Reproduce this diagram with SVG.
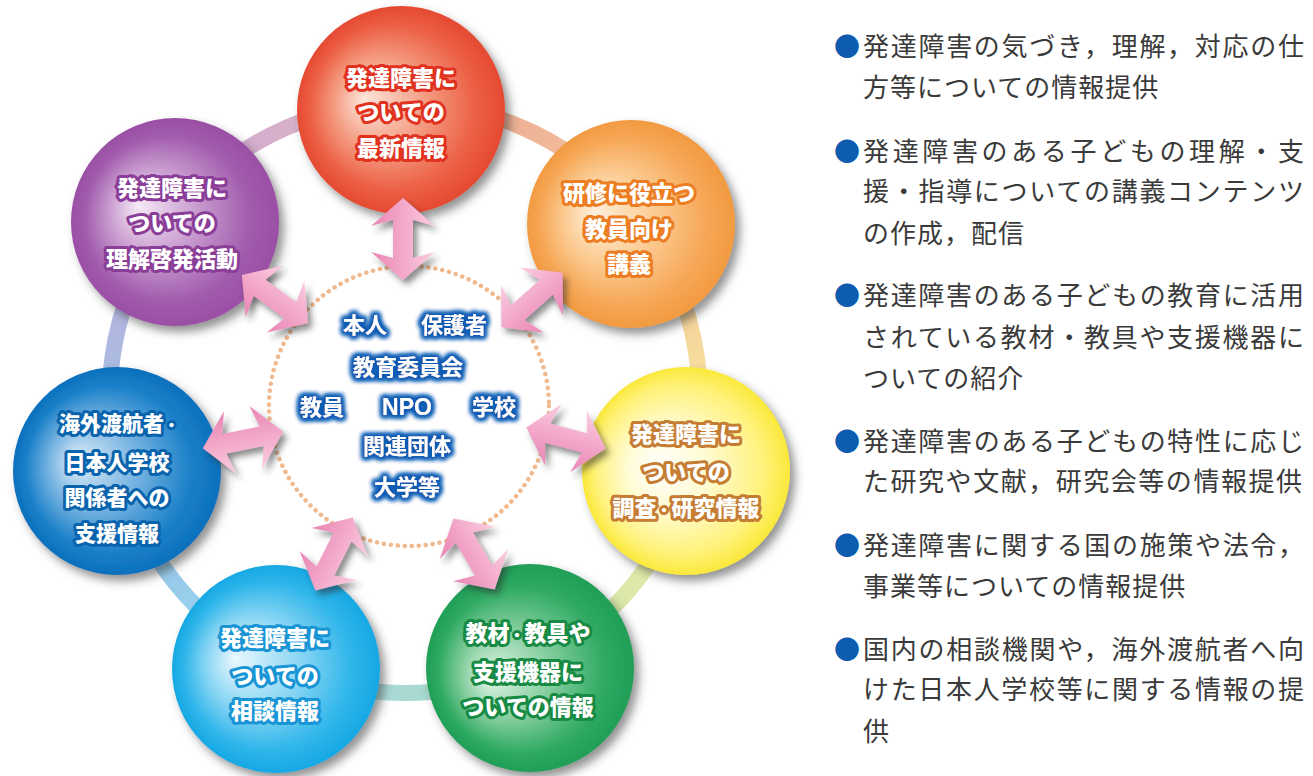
<svg xmlns="http://www.w3.org/2000/svg" xmlns:xlink="http://www.w3.org/1999/xlink" width="1313" height="776" viewBox="0 0 1313 776">
<defs>
<style>
.ct{font-family:"Noto Sans CJK JP","Noto Sans CJK SC",sans-serif;font-weight:900;font-size:22px;fill:#fff;text-anchor:middle;paint-order:stroke fill;stroke-width:6;stroke-linejoin:round}
.dot{font-size:15px}
.mid{font-family:"Noto Sans CJK JP",sans-serif;font-weight:700;font-size:22px;fill:#fff;text-anchor:middle}
.mid2{font-family:"Liberation Sans",Arial,sans-serif;font-weight:700;font-size:23px;fill:#fff;text-anchor:middle}
.rt{font-family:"Noto Sans CJK JP",sans-serif;font-size:26px;fill:#3a3a3a;letter-spacing:1px}
.bl{font-family:"Noto Sans CJK JP",sans-serif;font-size:26px;fill:#0d5cb0}
.ring{fill:none;stroke-width:16;opacity:0.85}
</style>
<filter id="csh" x="-20%" y="-20%" width="145%" height="145%">
<feDropShadow dx="5" dy="6" stdDeviation="5" flood-color="#3a3a3a" flood-opacity="0.55"/>
</filter>
<filter id="ash" x="-30%" y="-30%" width="170%" height="170%">
<feDropShadow dx="4" dy="5" stdDeviation="3" flood-color="#333" flood-opacity="0.55"/>
</filter>
<filter id="glow" x="-20%" y="-40%" width="140%" height="180%">
<feMorphology in="SourceAlpha" operator="dilate" radius="1.5" result="d"/>
<feGaussianBlur in="d" stdDeviation="2.4" result="b"/>
<feFlood flood-color="#0f5cb4"/>
<feComposite in2="b" operator="in" result="g"/>
<feMerge><feMergeNode in="g"/><feMergeNode in="g"/><feMergeNode in="g"/><feMergeNode in="SourceGraphic"/></feMerge>
</filter>
<radialGradient id="gRed" cx="0.5" cy="0.5" r="0.5" fx="0.32" fy="0.45">
<stop offset="0" stop-color="#fde6dc"/><stop offset="0.45" stop-color="#f49a80"/><stop offset="0.8" stop-color="#ec5f44"/><stop offset="1" stop-color="#e54a32"/>
</radialGradient>
<radialGradient id="gOrange" cx="0.5" cy="0.5" r="0.5" fx="0.32" fy="0.45">
<stop offset="0" stop-color="#fff0dc"/><stop offset="0.45" stop-color="#fbca90"/><stop offset="0.8" stop-color="#f6a756"/><stop offset="1" stop-color="#f29a40"/>
</radialGradient>
<radialGradient id="gYellow" cx="0.5" cy="0.5" r="0.5" fx="0.35" fy="0.48">
<stop offset="0" stop-color="#ffffff"/><stop offset="0.4" stop-color="#fffbd2"/><stop offset="0.8" stop-color="#fff27c"/><stop offset="1" stop-color="#fbe83a"/>
</radialGradient>
<radialGradient id="gGreen" cx="0.5" cy="0.5" r="0.5" fx="0.3" fy="0.55">
<stop offset="0" stop-color="#e2f5e8"/><stop offset="0.45" stop-color="#80cc9b"/><stop offset="0.8" stop-color="#2faa63"/><stop offset="1" stop-color="#1f9e57"/>
</radialGradient>
<radialGradient id="gCyan" cx="0.5" cy="0.5" r="0.5" fx="0.3" fy="0.45">
<stop offset="0" stop-color="#eaf8fe"/><stop offset="0.45" stop-color="#8ad6f4"/><stop offset="0.8" stop-color="#30b6ea"/><stop offset="1" stop-color="#16a8e4"/>
</radialGradient>
<radialGradient id="gBlue" cx="0.5" cy="0.5" r="0.5" fx="0.3" fy="0.45">
<stop offset="0" stop-color="#e0eef9"/><stop offset="0.45" stop-color="#70b0e0"/><stop offset="0.8" stop-color="#1a80c8"/><stop offset="1" stop-color="#0b70bd"/>
</radialGradient>
<radialGradient id="gPurple" cx="0.5" cy="0.5" r="0.5" fx="0.32" fy="0.42">
<stop offset="0" stop-color="#f5eaf6"/><stop offset="0.45" stop-color="#c697cd"/><stop offset="0.8" stop-color="#a15cac"/><stop offset="1" stop-color="#9a4fa5"/>
</radialGradient>
<linearGradient id="gArr" x1="0" y1="0" x2="0" y2="1">
<stop offset="0" stop-color="#f9cde0"/><stop offset="0.5" stop-color="#f3a8ca"/><stop offset="1" stop-color="#e985b5"/>
</linearGradient>
<linearGradient id="r1" gradientUnits="userSpaceOnUse" x1="170" y1="219" x2="401" y2="103"><stop offset="0" stop-color="#c39bcc"/><stop offset="1" stop-color="#d9a7b8"/></linearGradient>
<linearGradient id="r2" gradientUnits="userSpaceOnUse" x1="401" y1="103" x2="639" y2="219"><stop offset="0" stop-color="#e38f7e"/><stop offset="1" stop-color="#f5c08c"/></linearGradient>
<linearGradient id="r3" gradientUnits="userSpaceOnUse" x1="639" y1="219" x2="690" y2="473"><stop offset="0" stop-color="#f3b77e"/><stop offset="1" stop-color="#f6ea96"/></linearGradient>
<linearGradient id="r4" gradientUnits="userSpaceOnUse" x1="690" y1="473" x2="529" y2="666"><stop offset="0" stop-color="#f4ec92"/><stop offset="1" stop-color="#b9dca0"/></linearGradient>
<linearGradient id="r5" gradientUnits="userSpaceOnUse" x1="529" y1="666" x2="278" y2="664"><stop offset="0" stop-color="#8fcba6"/><stop offset="1" stop-color="#a6dcf2"/></linearGradient>
<linearGradient id="r6" gradientUnits="userSpaceOnUse" x1="278" y1="664" x2="119" y2="471"><stop offset="0" stop-color="#8dd2ef"/><stop offset="1" stop-color="#7fb3e0"/></linearGradient>
<linearGradient id="r7" gradientUnits="userSpaceOnUse" x1="119" y1="471" x2="170" y2="219"><stop offset="0" stop-color="#8ab5e0"/><stop offset="1" stop-color="#b7a3d4"/></linearGradient>
<path id="arr" d="M41,0 L13,-32 L19,-10 L-19,-10 L-13,-32 L-41,0 L-13,32 L-19,10 L19,10 L13,32 Z"/>
</defs>
<rect width="1313" height="776" fill="#fff"/>

<g id="ring">
<path class="ring" stroke="url(#r1)" d="M170,219 A295,295 0 0 1 401,103"/>
<path class="ring" stroke="url(#r2)" d="M401,103 A295,295 0 0 1 639,219"/>
<path class="ring" stroke="url(#r3)" d="M639,219 A295,295 0 0 1 690,473"/>
<path class="ring" stroke="url(#r4)" d="M690,473 A295,295 0 0 1 529,666"/>
<path class="ring" stroke="url(#r5)" d="M529,666 A295,295 0 0 1 278,664"/>
<path class="ring" stroke="url(#r6)" d="M278,664 A295,295 0 0 1 119,471"/>
<path class="ring" stroke="url(#r7)" d="M119,471 A295,295 0 0 1 170,219"/>
</g>

<g id="hub">
<circle cx="409" cy="406" r="140" fill="#fff" stroke="#f1b98e" stroke-width="4.5" stroke-linecap="round" stroke-dasharray="0.1 6.9"/>
</g>

<g id="n-red" filter="url(#csh)"><circle cx="401" cy="110" r="104" fill="url(#gRed)"/></g>
<g id="n-orange" filter="url(#csh)"><circle cx="631" cy="224" r="104" fill="url(#gOrange)"/></g>
<g id="n-yellow" filter="url(#csh)"><circle cx="686" cy="471" r="104" fill="url(#gYellow)"/></g>
<g id="n-green" filter="url(#csh)"><circle cx="530" cy="668" r="104" fill="url(#gGreen)"/></g>
<g id="n-cyan" filter="url(#csh)"><circle cx="276" cy="669" r="104" fill="url(#gCyan)"/></g>
<g id="n-blue" filter="url(#csh)"><circle cx="117" cy="471" r="104" fill="url(#gBlue)"/></g>
<g id="n-purple" filter="url(#csh)"><circle cx="175" cy="222" r="104" fill="url(#gPurple)"/></g>

<g id="connectors" fill="url(#gArr)">
<g filter="url(#ash)"><use href="#arr" transform="translate(403,239) rotate(90)"/></g>
<g filter="url(#ash)"><use href="#arr" transform="translate(532,300) rotate(-41.7)"/></g>
<g filter="url(#ash)"><use href="#arr" transform="translate(566,438) rotate(15)"/></g>
<g filter="url(#ash)"><use href="#arr" transform="translate(474,554) rotate(59.7)"/></g>
<g filter="url(#ash)"><use href="#arr" transform="translate(334,554) rotate(117)"/></g>
<g filter="url(#ash)"><use href="#arr" transform="translate(243,440) rotate(168.5)"/></g>
<g filter="url(#ash)"><use href="#arr" transform="translate(275,299) rotate(36)"/></g>
</g>

<g id="labels-red" stroke="#e0321f">
<text class="ct" x="401" y="86">発達障害に</text>
<text class="ct" x="401" y="120">ついての</text>
<text class="ct" x="401" y="156">最新情報</text>
</g>
<g id="labels-orange" stroke="#ec7d22">
<text class="ct" x="629" y="201">研修に役立つ</text>
<text class="ct" x="629" y="237">教員向け</text>
<text class="ct" x="629" y="272">講義</text>
</g>
<g id="labels-yellow" stroke="#c57d34">
<text class="ct" x="686" y="442">発達障害に</text>
<text class="ct" x="686" y="480">ついての</text>
<text class="ct" x="686" y="516">調査<tspan class="dot">・</tspan>研究情報</text>
</g>
<g id="labels-green" stroke="#178a44">
<text class="ct" x="528" y="641">教材<tspan class="dot">・</tspan>教具や</text>
<text class="ct" x="528" y="680">支援機器に</text>
<text class="ct" x="528" y="715">ついての情報</text>
</g>
<g id="labels-cyan" stroke="#1994d4">
<text class="ct" x="275" y="646">発達障害に</text>
<text class="ct" x="275" y="684">ついての</text>
<text class="ct" x="275" y="719">相談情報</text>
</g>
<g id="labels-blue" stroke="#0a63ad">
<text class="ct" x="119" y="431" style="font-size:21px">海外渡航者<tspan class="dot">・</tspan></text>
<text class="ct" x="117" y="470" style="font-size:21px">日本人学校</text>
<text class="ct" x="117" y="505" style="font-size:21px">関係者への</text>
<text class="ct" x="117" y="541" style="font-size:21px">支援情報</text>
</g>
<g id="labels-purple" stroke="#8a3e97">
<text class="ct" x="172" y="196">発達障害に</text>
<text class="ct" x="172" y="231">ついての</text>
<text class="ct" x="172" y="267">理解啓発活動</text>
</g>

<g id="hub-text" filter="url(#glow)">
<text class="mid" x="365" y="333">本人</text>
<text class="mid" x="454" y="333">保護者</text>
<text class="mid" x="408" y="375">教育委員会</text>
<text class="mid" x="322" y="415">教員</text>
<text class="mid2" x="407" y="415">NPO</text>
<text class="mid" x="494" y="415">学校</text>
<text class="mid" x="407" y="454">関連団体</text>
<text class="mid" x="407" y="495">大学等</text>
</g>

<g id="list">
<text class="bl" x="834" y="56">●</text>
<text class="rt" x="863" y="56" textLength="442" lengthAdjust="spacing">発達障害の気づき，理解，対応の仕</text>
<text class="rt" x="863" y="97">方等についての情報提供</text>

<text class="bl" x="834" y="161">●</text>
<text class="rt" x="863" y="161" textLength="442" lengthAdjust="spacing">発達障害のある子どもの理解・支</text>
<text class="rt" x="863" y="201" textLength="442" lengthAdjust="spacing">援・指導についての講義コンテンツ</text>
<text class="rt" x="863" y="243">の作成，配信</text>

<text class="bl" x="834" y="305">●</text>
<text class="rt" x="863" y="305" textLength="442" lengthAdjust="spacing">発達障害のある子どもの教育に活用</text>
<text class="rt" x="863" y="347" textLength="442" lengthAdjust="spacing">されている教材・教具や支援機器に</text>
<text class="rt" x="863" y="388">ついての紹介</text>

<text class="bl" x="834" y="451">●</text>
<text class="rt" x="863" y="451" textLength="442" lengthAdjust="spacing">発達障害のある子どもの特性に応じ</text>
<text class="rt" x="863" y="491" textLength="440" lengthAdjust="spacing">た研究や文献，研究会等の情報提供</text>

<text class="bl" x="834" y="555">●</text>
<text class="rt" x="863" y="555" textLength="442" lengthAdjust="spacing">発達障害に関する国の施策や法令，</text>
<text class="rt" x="863" y="596">事業等についての情報提供</text>

<text class="bl" x="834" y="659">●</text>
<text class="rt" x="863" y="659" textLength="442" lengthAdjust="spacing">国内の相談機関や，海外渡航者へ向</text>
<text class="rt" x="863" y="699" textLength="442" lengthAdjust="spacing">けた日本人学校等に関する情報の提</text>
<text class="rt" x="863" y="741">供</text>
</g>
</svg>
